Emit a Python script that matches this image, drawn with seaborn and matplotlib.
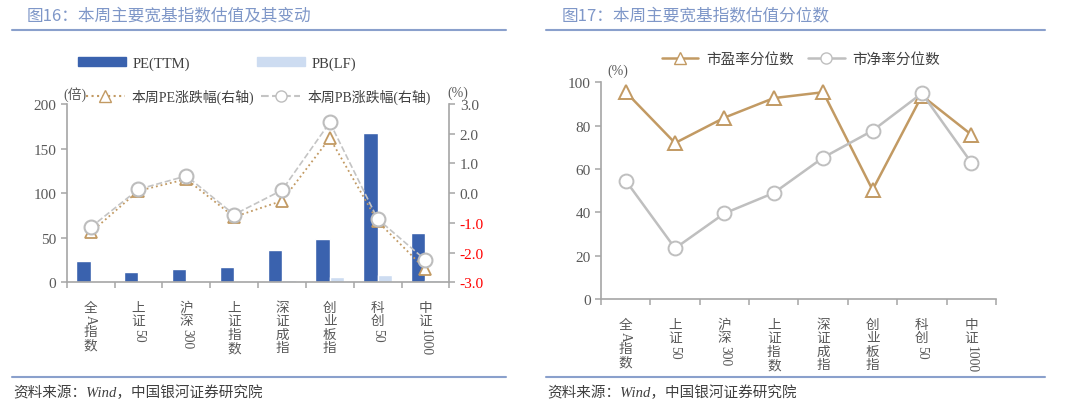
import numpy as np
import pandas as pd
import matplotlib.pyplot as plt
import seaborn as sns
from matplotlib.patches import Patch
from matplotlib.lines import Line2D
from matplotlib.transforms import blended_transform_factory

# данные
names = ['全A指数', '上证50', '沪深300', '上证指数', '深证成指', '创业板指', '科创50', '中证1000']
pe_ttm = [23.5, 11.2, 14.6, 17.2, 36.6, 48.2, 167.0, 55.0]
pb_lf = [1.5, 0.8, 1.1, 1.2, 2.6, 6.0, 7.9, 2.6]
pe_chg = [-1.32, 0.08, 0.47, -0.80, -0.26, 1.85, -0.95, -2.56]
pb_chg = [-1.15, 0.13, 0.58, -0.72, 0.10, 2.38, -0.87, -2.25]
pe_pct = [95.5, 72.0, 83.7, 92.7, 95.4, 50.4, 93.8, 75.9]
pb_pct = [54.7, 23.5, 39.6, 49.0, 65.3, 77.7, 94.9, 63.0]

sns.set_style('ticks')
FONT = ['Liberation Serif', 'Noto Sans CJK SC', 'DejaVu Sans']
CJK = ['Noto Sans CJK SC', 'DejaVu Sans']
plt.rcParams['font.family'] = FONT
plt.rcParams['axes.unicode_minus'] = False

C_PE_BAR = '#3a62ae'
C_PB_BAR = '#cddcf1'
C_TAN = '#c29a63'
C_GREY = '#c4c4c4'
C_AX = '#a6a6a6'
C_TXT = '#595959'
C_TITLE = '#7f97c8'

fig = plt.figure(figsize=(10.8, 4.06), dpi=100)
ax1 = fig.add_axes([0.0618, 0.3022, 0.3543, 0.4392])
ax2 = ax1.twinx()
ax3 = fig.add_axes([0.5565, 0.2603, 0.3657, 0.5347])

x = np.arange(len(names))

# --- левый график: столбцы PE/PB
bars = pd.DataFrame({
    'name': names * 2,
    'val': pe_ttm + pb_lf,
    'metric': ['PE(TTM)'] * len(names) + ['PB(LF)'] * len(names),
})
sns.barplot(data=bars, x='name', y='val', hue='metric', order=names,
            palette=[C_PE_BAR, C_PB_BAR], width=0.6, saturation=1,
            legend=False, ax=ax1)

# линии изменений на правой оси
sns.lineplot(x=x, y=pe_chg, ax=ax2, color=C_TAN, linestyle=':', linewidth=1.3,
             marker='^', markersize=9, markerfacecolor='white',
             markeredgecolor=C_TAN, markeredgewidth=1.3)
sns.lineplot(x=x, y=pb_chg, ax=ax2, color=C_GREY, linestyle='--', linewidth=1.2,
             dashes=(4, 3), marker='o', markersize=10, markerfacecolor='white',
             markeredgecolor='#bdbdbd', markeredgewidth=1.5)

ax1.set_xlim(-0.5, 7.5)
ax1.set_ylim(0, 200)
ax1.set_yticks(np.arange(0, 201, 50))
ax2.set_ylim(-3, 3)
ax2.set_yticks(np.arange(-3, 3.1, 1))
ax2.set_yticklabels([f'{v:.1f}' for v in np.arange(-3, 3.1, 1)])

# --- правый график: перцентили
sns.lineplot(x=x, y=pe_pct, ax=ax3, color=C_TAN, linewidth=1.8,
             marker='^', markersize=10, markerfacecolor='white',
             markeredgecolor=C_TAN, markeredgewidth=1.4)
sns.lineplot(x=x, y=pb_pct, ax=ax3, color='#bfbfbf', linewidth=1.8,
             marker='o', markersize=10, markerfacecolor='white',
             markeredgecolor='#bfbfbf', markeredgewidth=1.4)
ax3.set_xlim(-0.5, 7.5)
ax3.set_ylim(0, 100)
ax3.set_yticks(np.arange(0, 101, 20))

for ax in (ax1, ax2, ax3):
    ax.set_xlabel('')
    ax.set_ylabel('')
    for s in ax.spines.values():
        s.set_color(C_AX)
        s.set_linewidth(1.2)
    ax.spines['top'].set_visible(False)
    ax.tick_params(axis='both', colors=C_AX, labelcolor=C_TXT, labelsize=11,
                   length=4, width=1.1, direction='out')
for lab in ax2.get_yticklabels():
    if lab.get_text().startswith('-'):
        lab.set_color('#ff0000')
ax1.spines['right'].set_visible(False)
ax2.spines['left'].set_visible(False)
ax2.spines['bottom'].set_visible(False)
ax3.spines['right'].set_visible(False)
ax1.set_xticks(np.arange(-0.5, 8, 1))
ax1.set_xticklabels([])
ax3.set_xticks(np.arange(-0.5, 8, 1))
ax3.set_xticklabels([])

renderer = fig.canvas.get_renderer()


# вертикальные подписи категорий: иероглифы стоят, цифры повернуты
def vlabel(ax, i, text, start=12.5, fs=9.8):
    tr = blended_transform_factory(ax.transData, ax.transAxes)
    # разбиваем на куски: блок иероглифов / блок латиницы
    parts = []
    for ch in text:
        kind = 'lat' if ch.isascii() else 'cjk'
        if parts and parts[-1][0] == kind:
            parts[-1][1] += ch
        else:
            parts.append([kind, ch])
    off = start
    for kind, s in parts:
        if kind == 'lat':
            t = ax.annotate(s, (i, 0), xycoords=tr, xytext=(0, -off),
                            textcoords='offset points', rotation=-90,
                            ha='center', va='top', fontsize=fs, color=C_TXT,
                            family=FONT, annotation_clip=False)
        else:
            t = ax.annotate('\n'.join(s), (i, 0), xycoords=tr, xytext=(0, -off),
                            textcoords='offset points', ha='center', va='top',
                            fontsize=fs, color=C_TXT, family=CJK,
                            linespacing=0.95, annotation_clip=False)
        h = t.get_window_extent(renderer).height * 72 / fig.dpi
        off += h + 0.3


for i, n in enumerate(names):
    vlabel(ax1, i, n)
    vlabel(ax3, i, n)

# --- легенды
fig.legend(handles=[Patch(color=C_PE_BAR, label='PE(TTM)'),
                    Patch(color=C_PB_BAR, label='PB(LF)')],
           loc='center left', bbox_to_anchor=(0.0722, 0.842), ncol=2,
           frameon=False, fontsize=10.5, handlelength=3.3,
           handleheight=0.55, handletextpad=0.45, columnspacing=4.6,
           borderpad=0, borderaxespad=0, labelcolor='#404040')
fig.legend(handles=[Line2D([], [], color=C_TAN, linestyle=':', marker='^',
                           markersize=8, markerfacecolor='white',
                           markeredgecolor=C_TAN, label='本周PE涨跌幅(右轴)'),
                    Line2D([], [], color=C_GREY, linestyle='--', marker='o',
                           markersize=8, markerfacecolor='white',
                           markeredgecolor='#bdbdbd', label='本周PB涨跌幅(右轴)')],
           loc='center left', bbox_to_anchor=(0.0796, 0.761), ncol=2,
           frameon=False, fontsize=10, handlelength=2.8,
           handletextpad=0.5, columnspacing=0.5,
           borderpad=0, borderaxespad=0, labelcolor='#404040')
fig.legend(handles=[Line2D([], [], color=C_TAN, linewidth=1.8, marker='^',
                           markersize=8, markerfacecolor='white',
                           markeredgecolor=C_TAN, label='市盈率分位数'),
                    Line2D([], [], color='#bfbfbf', linewidth=1.8, marker='o',
                           markersize=8, markerfacecolor='white',
                           markeredgecolor='#bfbfbf', label='市净率分位数')],
           loc='center left', bbox_to_anchor=(0.613, 0.852), ncol=2,
           frameon=False, fontsize=10.5, handlelength=2.5,
           handletextpad=0.5, columnspacing=1.0,
           borderpad=0, borderaxespad=0, labelcolor='#404040')

# единицы осей
fig.text(63 / 1080, 1 - 95 / 406, '(倍)', fontsize=10, color=C_TXT, va='center')
fig.text(447 / 1080, 1 - 93 / 406, '(%)', fontsize=10, color=C_TXT, va='center')
fig.text(607 / 1080, 1 - 71 / 406, '(%)', fontsize=10, color=C_TXT, va='center')

# заголовки, разделители и источник
fig.text(27 / 1080, 1 - 16 / 406, '图16：本周主要宽基指数估值及其变动',
         fontsize=12, color=C_TITLE, va='center', family=CJK)
fig.text(562 / 1080, 1 - 16 / 406, '图17：本周主要宽基指数估值分位数',
         fontsize=12, color=C_TITLE, va='center', family=CJK)
for x0, x1 in [(12, 506), (546, 1045)]:
    for yy in (31, 378):
        fig.add_artist(Line2D([x0 / 1080, x1 / 1080], [1 - yy / 406] * 2,
                              color='#8aa0cc', linewidth=1.5))
    fig.text((x0 + 1) / 1080, 1 - 393 / 406, '资料来源：Wind，中国银河证券研究院',
             fontsize=10.5, color='#404040', va='center', style='italic')

fig.savefig('out.png', dpi=100)
